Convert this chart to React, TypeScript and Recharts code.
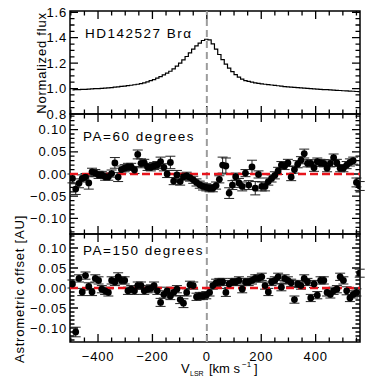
import React from 'react';
import { ComposedChart, Line, Scatter, ErrorBar, XAxis, YAxis, ReferenceLine, ReferenceArea } from 'recharts';

// velocity bins (km/s)
const velocity = [
  -494, -482, -470, -458, -446, -434, -422, -410, -398, -386,
  -374, -362, -350, -338, -326, -314, -302, -290, -278, -266,
  -254, -242, -230, -218, -206, -194, -182, -170, -158, -146,
  -134, -122, -110, -98, -86, -74, -62, -50, -38, -26,
  -14, -2, 10, 22, 34, 46, 58, 70, 82, 94,
  106, 118, 130, 142, 154, 166, 178, 190, 202, 214,
  226, 238, 250, 262, 274, 286, 298, 310, 322, 334,
  346, 358, 370, 382, 394, 406, 418, 430, 442, 454,
  466, 478, 490, 502, 514, 526, 538, 550, 562,
];

// Br-alpha line profile
const flux = [
  0.990, 0.991, 0.992, 0.993, 0.994, 0.996, 0.997, 0.999, 1.000, 1.002,
  1.004, 1.006, 1.008, 1.011, 1.014, 1.017, 1.020, 1.023, 1.026, 1.030,
  1.034, 1.039, 1.045, 1.053, 1.062, 1.071, 1.082, 1.094, 1.107, 1.121,
  1.136, 1.155, 1.176, 1.200, 1.225, 1.252, 1.280, 1.310, 1.336, 1.358,
  1.378, 1.388, 1.383, 1.352, 1.310, 1.268, 1.228, 1.192, 1.160, 1.133,
  1.110, 1.090, 1.074, 1.063, 1.056, 1.050, 1.045, 1.041, 1.037, 1.034,
  1.031, 1.028, 1.025, 1.022, 1.019, 1.016, 1.013, 1.011, 1.009, 1.007,
  1.005, 1.003, 1.001, 0.999, 0.997, 0.995, 0.994, 0.992, 0.991, 0.989,
  0.988, 0.986, 0.985, 0.983, 0.982, 0.980, 0.979, 0.977, 0.976,
];

// astrometric offset, PA = 60 deg (AU)
const pa60 = [
  -0.010, -0.034, -0.021, -0.010, -0.007, -0.020, 0.005, 0.002, -0.002, -0.002,
  -0.006, -0.006, 0.001, 0.025, -0.007, 0.010, 0.013, 0.016, 0.016, 0.009,
  0.044, 0.024, 0.025, 0.016, 0.015, 0.018, 0.020, 0.028, 0.015, 0.000,
  0.026, -0.016, -0.002, -0.017, -0.006, -0.004, -0.008, -0.013, -0.019, -0.024,
  -0.028, -0.030, -0.032, -0.032, -0.026, -0.012, 0.020, 0.018, -0.043, -0.025,
  -0.006, -0.020, -0.028, 0.002, -0.025, 0.016, -0.032, -0.001, -0.028, -0.028,
  -0.017, -0.010, -0.003, 0.007, 0.020, 0.018, 0.025, -0.007, 0.010, 0.022,
  0.031, 0.046, 0.024, 0.024, 0.014, 0.028, 0.025, 0.024, 0.013, 0.024,
  0.037, 0.025, 0.013, 0.013, 0.020, 0.026, 0.030, -0.019, -0.027,
];
const err60 = [
  0.010, 0.012, 0.010, 0.008, 0.008, 0.014, 0.008, 0.008, 0.008, 0.008,
  0.008, 0.008, 0.008, 0.012, 0.010, 0.008, 0.008, 0.008, 0.008, 0.008,
  0.010, 0.010, 0.008, 0.008, 0.008, 0.008, 0.008, 0.010, 0.008, 0.008,
  0.014, 0.008, 0.010, 0.008, 0.008, 0.008, 0.008, 0.008, 0.008, 0.008,
  0.008, 0.008, 0.008, 0.008, 0.008, 0.008, 0.018, 0.018, 0.012, 0.010,
  0.008, 0.010, 0.010, 0.008, 0.010, 0.015, 0.015, 0.008, 0.010, 0.010,
  0.008, 0.008, 0.008, 0.008, 0.008, 0.008, 0.008, 0.008, 0.008, 0.008,
  0.008, 0.010, 0.008, 0.008, 0.008, 0.008, 0.008, 0.008, 0.008, 0.008,
  0.008, 0.008, 0.008, 0.008, 0.008, 0.008, 0.008, 0.010, 0.010,
];

// astrometric offset, PA = 150 deg (AU)
const pa150 = [
  0.010, -0.110, 0.024, -0.010, 0.031, 0.004, -0.010, 0.024, 0.019, -0.003,
  -0.007, -0.011, 0.019, 0.015, 0.028, 0.019, 0.019, -0.007, -0.003, -0.007,
  0.006, 0.006, -0.007, -0.003, -0.001, 0.006, -0.007, -0.036, -0.016, -0.007,
  -0.020, -0.011, -0.003, -0.029, -0.038, -0.011, 0.008, 0.006, -0.022, -0.020,
  -0.020, -0.018, -0.011, 0.006, 0.013, 0.015, 0.015, -0.011, 0.010, 0.015,
  0.015, 0.019, -0.003, 0.015, 0.015, 0.019, 0.024, 0.024, 0.028, 0.006,
  -0.010, 0.015, 0.019, 0.028, 0.002, 0.024, 0.019, 0.013, -0.029, 0.010,
  0.006, 0.024, 0.015, -0.025, 0.010, -0.018, 0.019, 0.019, -0.011, -0.016,
  -0.007, -0.003, 0.028, 0.019, -0.007, -0.025, -0.016, -0.011, 0.037,
];
const err150 = [
  0.010, 0.012, 0.009, 0.009, 0.009, 0.009, 0.009, 0.009, 0.009, 0.009,
  0.009, 0.009, 0.009, 0.009, 0.010, 0.009, 0.009, 0.009, 0.009, 0.009,
  0.009, 0.009, 0.009, 0.009, 0.009, 0.009, 0.009, 0.010, 0.009, 0.009,
  0.009, 0.009, 0.009, 0.010, 0.011, 0.009, 0.009, 0.009, 0.009, 0.009,
  0.009, 0.009, 0.009, 0.009, 0.009, 0.009, 0.009, 0.010, 0.009, 0.009,
  0.009, 0.009, 0.009, 0.009, 0.009, 0.009, 0.009, 0.009, 0.009, 0.009,
  0.009, 0.009, 0.009, 0.009, 0.009, 0.009, 0.009, 0.009, 0.009, 0.009,
  0.009, 0.009, 0.009, 0.009, 0.009, 0.009, 0.009, 0.009, 0.009, 0.009,
  0.009, 0.009, 0.009, 0.009, 0.010, 0.009, 0.009, 0.009, 0.010,
];

// ticks
const xTicks = [-500, -450, -400, -350, -300, -250, -200, -150, -100, -50, 0, 50, 100, 150, 200, 250, 300, 350, 400, 450, 500, 550];
const xMajor = [-400, -200, 0, 200, 400];
const fluxTicks = [0.85, 0.9, 0.95, 1.0, 1.05, 1.1, 1.15, 1.2, 1.25, 1.3, 1.35, 1.4, 1.45, 1.5, 1.55, 1.6];
const fluxMajor = [0.8, 1.0, 1.2, 1.4, 1.6];
const offTicks = [-0.13, -0.12, -0.11, -0.1, -0.09, -0.08, -0.07, -0.06, -0.05, -0.04, -0.03, -0.02, -0.01, 0,
  0.01, 0.02, 0.03, 0.04, 0.05, 0.06, 0.07, 0.08, 0.09, 0.1, 0.11, 0.12, 0.13];
const offMajor = [-0.1, -0.05, 0, 0.05, 0.1];

const data = velocity.map((v, i) => ({
  v,
  flux: flux[i],
  pa60: pa60[i],
  e60: err60[i],
  pa150: pa150[i],
  e150: err150[i],
}));

const W = 382;
const PL = 70;
const PR = 360;
const X_DOMAIN: [number, number] = [-503, 563];
const FLUX_DOMAIN: [number, number] = [0.8, 1.61];
const OFF_DOMAIN: [number, number] = [-0.135, 0.135];
const FONT = "'Liberation Sans', Arial, Helvetica, sans-serif";
const MAJOR_LEN = 8;
const MINOR_LEN = 4.5;
const TICK_W = 1.3;

const has = (arr: number[], v: number) => arr.some((m) => Math.abs(m - v) < 1e-6);
const minus = (s: string) => s.replace('-', '\u2212');

const textStyle = { fontFamily: FONT, fontSize: 13, letterSpacing: 0.8, fill: '#000' };
const titleStyle = { fontFamily: FONT, fontSize: 13.5, letterSpacing: 1.5, fill: '#000' };

// tick labels come from the axes
const yLabel = (digits: number) => (props: any) => (
  <text x={PL - 3} y={props.y} dy="0.36em" textAnchor="end" {...textStyle}>
    {minus(props.payload.value.toFixed(digits))}
  </text>
);
const xLabel = (bottom: number) => (props: any) => (
  <text x={props.x} y={bottom + 19} textAnchor="middle" {...textStyle}>
    {minus(String(props.payload.value))}
  </text>
);

// IDL-style inward tick marks on all four sides of a panel, one path per panel
function tickMarks(top: number, bottom: number, yDomain: [number, number], yTicks: number[], yMajor: number[]) {
  const sx = (v: number) => PL + ((v - X_DOMAIN[0]) / (X_DOMAIN[1] - X_DOMAIN[0])) * (PR - PL);
  const sy = (v: number) => bottom - ((v - yDomain[0]) / (yDomain[1] - yDomain[0])) * (bottom - top);
  let d = '';
  xTicks.forEach((v) => {
    const len = has(xMajor, v) ? MAJOR_LEN : MINOR_LEN;
    const x = sx(v).toFixed(2);
    d += `M${x} ${top} L${x} ${top + len} M${x} ${bottom} L${x} ${bottom - len} `;
  });
  yTicks.forEach((v) => {
    const len = has(yMajor, v) ? MAJOR_LEN : MINOR_LEN;
    const y = sy(v).toFixed(2);
    d += `M${PL} ${y} L${PL + len} ${y} M${PR} ${y} L${PR - len} ${y} `;
  });
  return <path d={d} stroke="#000" strokeWidth={TICK_W} fill="none" />;
}

const dotShape = (p: any) => <circle cx={p.cx} cy={p.cy} r={3.4} fill="#000" />;

function frame(yDomain: [number, number]) {
  return (
    <ReferenceArea x1={X_DOMAIN[0]} x2={X_DOMAIN[1]} y1={yDomain[0]} y2={yDomain[1]} ifOverflow="visible"
      fill="none" fillOpacity={0} stroke="#000" strokeWidth={1.5} />
  );
}

const vLine = <ReferenceLine x={0} stroke="#9c9c9c" strokeWidth={2} strokeDasharray="7 4" />;
const zeroLine = <ReferenceLine y={0} stroke="#e8141c" strokeWidth={2.5} strokeDasharray="8 4" />;

export default function App() {
  return (
    <div style={{ position: 'absolute', left: 0, top: 0, width: W, height: 382, background: '#fff' }}>
      <style>{'.recharts-surface{overflow:visible}'}</style>

      <div style={{ position: 'absolute', left: 0, top: 0 }}>
        <ComposedChart width={W} height={114} data={data} margin={{ top: 11, right: W - PR, bottom: 0, left: 0 }}>
          <XAxis dataKey="v" type="number" domain={X_DOMAIN} allowDataOverflow hide />
          <YAxis type="number" domain={FLUX_DOMAIN} allowDataOverflow ticks={fluxMajor} interval={0} width={PL}
            tickLine={false} axisLine={false} tick={yLabel(1)} />
          {frame(FLUX_DOMAIN)}
          {tickMarks(11, 114, FLUX_DOMAIN, fluxTicks, fluxMajor)}
          {vLine}
          <Line dataKey="flux" type="step" stroke="#000" strokeWidth={1.2} dot={false} isAnimationActive={false} />
          <text x={85} y={37.5} {...titleStyle}>HD142527 Brα</text>
          <text x={46} y={63} transform="rotate(-90 46 63)" textAnchor="middle" {...textStyle}>Normalized flux</text>
        </ComposedChart>
      </div>

      <div style={{ position: 'absolute', left: 0, top: 114 }}>
        <ComposedChart width={W} height={120} data={data} margin={{ top: 0, right: W - PR, bottom: 0, left: 0 }}>
          <XAxis dataKey="v" type="number" domain={X_DOMAIN} allowDataOverflow hide />
          <YAxis type="number" domain={OFF_DOMAIN} allowDataOverflow ticks={offMajor} interval={0} width={PL}
            tickLine={false} axisLine={false} tick={yLabel(2)} />
          {frame(OFF_DOMAIN)}
          {tickMarks(0, 120, OFF_DOMAIN, offTicks, offMajor)}
          {vLine}
          <Scatter dataKey="pa60" fill="#000" shape={dotShape} isAnimationActive={false}>
            <ErrorBar dataKey="e60" direction="y" width={5} stroke="#222" strokeWidth={1} isAnimationActive={false} />
          </Scatter>
          {zeroLine}
          <text x={83} y={26.7} {...titleStyle}>PA=60 degrees</text>
        </ComposedChart>
      </div>

      <div style={{ position: 'absolute', left: 0, top: 234 }}>
        <ComposedChart width={W} height={148} data={data} margin={{ top: 0, right: W - PR, bottom: 0, left: 0 }}>
          <XAxis dataKey="v" type="number" domain={X_DOMAIN} allowDataOverflow ticks={xMajor} interval={0} height={40}
            tickLine={false} axisLine={false} tick={xLabel(108)} />
          <YAxis type="number" domain={OFF_DOMAIN} allowDataOverflow ticks={offMajor} interval={0} width={PL}
            tickLine={false} axisLine={false} tick={yLabel(2)} />
          {frame(OFF_DOMAIN)}
          {tickMarks(0, 108, OFF_DOMAIN, offTicks, offMajor)}
          {vLine}
          <Scatter dataKey="pa150" fill="#000" shape={dotShape} isAnimationActive={false}>
            <ErrorBar dataKey="e150" direction="y" width={5} stroke="#222" strokeWidth={1} isAnimationActive={false} />
          </Scatter>
          {zeroLine}
          <text x={83} y={21} {...titleStyle}>PA=150 degrees</text>
          <text x={24} y={55} transform="rotate(-90 24 55)" textAnchor="middle" {...textStyle}>Astrometric offset [AU]</text>
          <text x={181} y={139} fontFamily={FONT} fontSize={13} fill="#000">V</text>
          <text x={190} y={142} fontFamily={FONT} fontSize={7} fill="#000">LSR</text>
          <text x={209} y={139} fontFamily={FONT} fontSize={13} fill="#000">[km s</text>
          <text x={242} y={133} fontFamily={FONT} fontSize={8} fill="#000">−1</text>
          <text x={254} y={139} fontFamily={FONT} fontSize={13} fill="#000">]</text>
        </ComposedChart>
      </div>
    </div>
  );
}
